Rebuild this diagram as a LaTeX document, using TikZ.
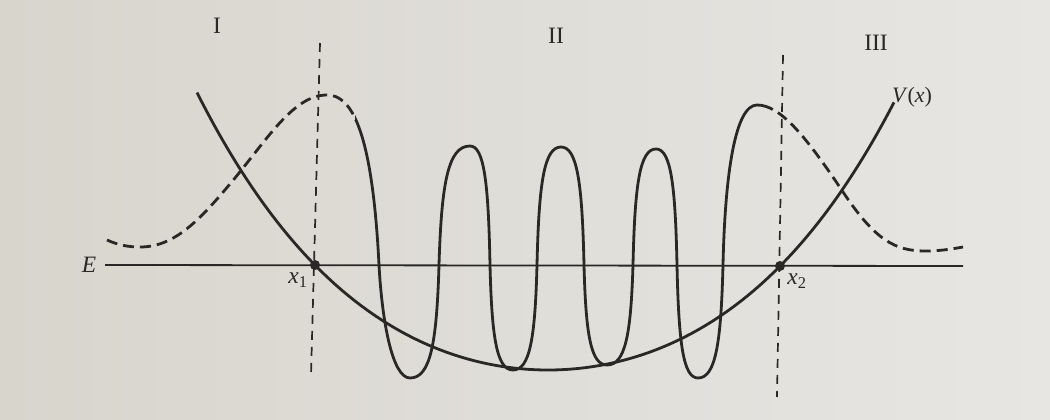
\documentclass[tikz,border=0pt]{standalone}
\usepackage{fontspec}
\setmainfont{Liberation Serif}
\begin{document}
\begin{tikzpicture}[x=1pt,y=-1pt,
  ink/.style={draw=inkc},
  curve/.style={ink,line width=2.8pt,line join=round},
  wdash/.style={dash pattern=on 11pt off 6pt},
  vdash/.style={ink,line width=1.7pt,dash pattern=on 9pt off 7pt},
  axis/.style={ink,line width=1.8pt},
  lab/.style={text=inkc,inner sep=0pt,font=\fontsize{23.5}{26}\selectfont},
  dot/.style={circle,fill=inkc,inner sep=0pt,minimum size=10pt}]
\definecolor{inkc}{RGB}{42,40,38}
\definecolor{bgl}{RGB}{216,213,205}
\definecolor{bgr}{RGB}{231,230,227}
\useasboundingbox (0,0) rectangle (1050,420);
\shade[left color=bgl,right color=bgr] (0,0) rectangle (1050,420);

% axis E
\coordinate (eL) at (105,265);
\coordinate (eR) at (963,266);
\draw[axis] (eL) -- (eR);

% turning points
\node[dot] (p1) at (315,265) {};
\node[dot] (p2) at (780,266) {};

% dashed verticals
\coordinate (v1t) at (320,43);
\coordinate (v1b) at (311,375);
\coordinate (v2t) at (783,55);
\coordinate (v2b) at (777,397);
\draw[vdash] (v1t) -- (v1b);
\draw[vdash] (v2t) -- (v2b);

% potential V(x)
\draw[curve] plot[domain=197:894,samples=200,smooth]
  (\x,{370-16.8*((\x-548)/100)*((\x-548)/100)-0.464*((\x-548)/100)*((\x-548)/100)*((\x-548)/100)*((\x-548)/100)});

% wavefunction
\def\wavepath{(107,240) .. controls (118,245) and (128,247) .. (140,247)
 .. controls (175,247) and (200,220) .. (235,178)
 .. controls (270,135) and (295,95) .. (327,95)
 .. controls (350,95) and (372,125) .. (379,265)
 .. controls (382,320) and (392,378) .. (410,378)
 .. controls (430.3,378) and (436.7,344) .. (439,265)
 .. controls (441.5,182) and (448.3,146) .. (470,146)
 .. controls (484,146) and (488.4,182) .. (490,265)
 .. controls (491.8,338.5) and (496.9,370) .. (513,370)
 .. controls (529.8,370) and (535.1,338.5) .. (537,265)
 .. controls (538.9,182.4) and (544.2,147) .. (561,147)
 .. controls (577.1,147) and (582.2,182.4) .. (584,265)
 .. controls (585.8,335) and (590.9,365) .. (607,365)
 .. controls (625.2,365) and (630.9,335) .. (633,265)
 .. controls (634.8,183.8) and (639.9,149) .. (656,149)
 .. controls (670.7,149) and (675.3,183.8) .. (677,265)
 .. controls (678.7,344) and (683.3,378) .. (698,378)
 .. controls (715.5,378) and (721,344) .. (723,265)
 .. controls (725,175) and (735,105) .. (757,105)
 .. controls (780,105) and (805,135) .. (843,192)
 .. controls (875,240) and (895,251) .. (925,251)
 .. controls (940,251) and (952,249) .. (963,247)}
\begin{scope}
  \clip (355,0) rectangle (769,420);
  \draw[curve] \wavepath;
\end{scope}
\begin{scope}
  \clip (0,0) rectangle (355,420) (769,0) rectangle (1050,420);
  \draw[curve,wdash] \wavepath;
\end{scope}

% labels
\node[lab] (rI) at (217,26) {I};
\node[lab] (rII) at (556,36) {II};
\node[lab] (rIII) at (876,43) {III};
\node[lab,font=\fontsize{22}{25}\selectfont] (lV) at (912,97) {\textit{V}(\textit{x})};
\node[lab] (lE) at (89,265) {\textit{E}};
\node[lab] (lx1) at (298,280) {\textit{x}\textsubscript{1}};
\node[lab] (lx2) at (797,281) {\textit{x}\textsubscript{2}};
\end{tikzpicture}
\end{document}
